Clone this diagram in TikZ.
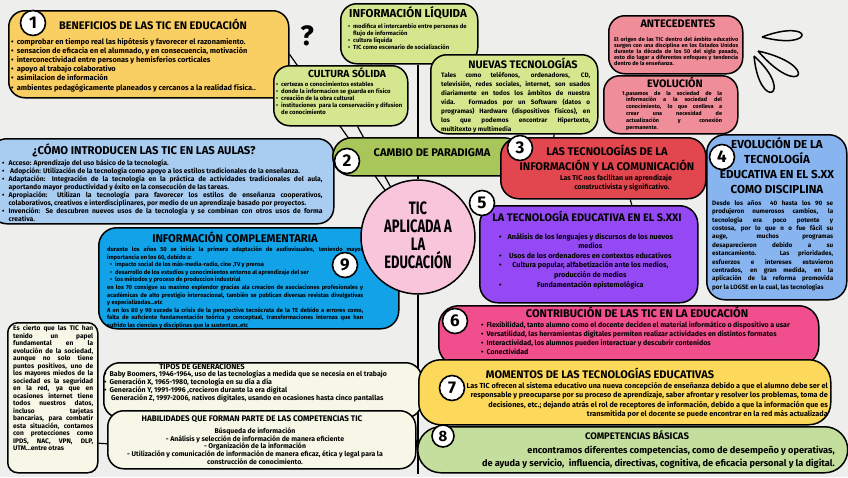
\documentclass[tikz,border=0pt]{standalone}
\usepackage{fontspec}
\setmainfont{Fira Sans}
\newfontfamily\narrowfont{Fira Sans}[FakeStretch=0.72]
\usetikzlibrary{positioning}

\definecolor{tpaper}{HTML}{EEEEEC}
\definecolor{tsun}{HTML}{F9CE63}
\definecolor{tsunB}{HTML}{FCD85B}
\definecolor{tlime}{HTML}{D4E78F}
\definecolor{trose}{HTML}{EF8E99}
\definecolor{tsky}{HTML}{A9CCF1}
\definecolor{tolive}{HTML}{A8C65A}
\definecolor{tred}{HTML}{E2464F}
\definecolor{tcorn}{HTML}{88B5EF}
\definecolor{tblush}{HTML}{F8C5DB}
\definecolor{tviolet}{HTML}{9549F4}
\definecolor{tazure}{HTML}{11A2E8}
\definecolor{tcream}{HTML}{F6F7E6}
\definecolor{tpink}{HTML}{F14E8E}
\definecolor{tsage}{HTML}{C4DE9D}

\pgfdeclarelayer{paperlayer}
\pgfdeclarelayer{links}
\pgfsetlayers{paperlayer,links,main}

\begin{document}
\begin{tikzpicture}[x=1pt, y=-1pt, font=\bfseries,
    box/.style={draw, line width=1.5pt, rounded corners=16pt, anchor=north west, inner sep=0pt},
    ttl/.style={inner sep=0pt, font=\bfseries\fontsize{11}{12}\selectfont},
    txt/.style={inner sep=0pt, anchor=north west},
    num/.style={circle, draw, line width=1.6pt, fill=white, minimum size=25pt, inner sep=0pt, font=\bfseries\fontsize{17}{17}\selectfont},
    link/.style={line width=1.2pt},
    loop/.style={line width=1.5pt}
  ]
  \useasboundingbox (0,0) rectangle (848,477);
  \begin{pgfonlayer}{paperlayer}
    \fill[tpaper] (0,0) rectangle (848,477);
  \end{pgfonlayer}

  % top row
  \node[box, fill=tsun, minimum width=280pt, minimum height=87pt] (benef) at (8,10) {};
  \node[ttl] (benefT) at (153,24) {BENEFICIOS DE LAS TIC EN EDUCACIÓN};
  \node[txt, align=left, font=\bfseries\fontsize{7.4}{9.2}\selectfont] (benefX) at (11,37.7)
    {\textbullet\hspace{3pt}comprobar en tiempo real las hipótesis y favorecer el razonamiento.\\
     \textbullet\hspace{3pt}sensacion de eficacia en el alumnado, y en consecuencia, motivación\\
     \textbullet\hspace{3pt}interconectividad entre personas y hemisferios corticales\\
     \textbullet\hspace{3pt}apoyo al trabajo colaborativo\\
     \textbullet\hspace{3pt}asimilacion de información\\
     \textbullet\hspace{3pt}ambientes pedagógicamente planeados y cercanos a la realidad física..};

  \node[font=\bfseries\fontsize{28}{28}\selectfont, inner sep=0pt] (quest) at (307,36) {?};

  \node[box, fill=tlime, minimum width=137pt, minimum height=60pt] (liquida) at (340,3) {};
  \node[ttl, font=\bfseries\fontsize{11.5}{12}\selectfont] (liquidaT) at (408,13) {INFORMACIÓN LÍQUIDA};
  \node[txt, font=\bfseries\fontsize{5.9}{7}\selectfont] (liquidaX) at (348,23.7)
    {\begin{tabular}{@{}l@{\hspace{3pt}}l@{}}
     \textbullet & modifica el intercambio entre personas de\\
                 & flujo de información\\
     \textbullet & cultura líquida\\
     \textbullet & TIC como escenario de socialización
     \end{tabular}};

  \node[box, fill=tlime, minimum width=167pt, minimum height=79pt] (nuevas) at (430,54) {};
  \node[ttl, font=\bfseries\fontsize{10.9}{12}\selectfont] (nuevasT) at (523,63) {NUEVAS TECNOLOGÍAS};
  \node[txt, text width=149pt, align=justify, font=\bfseries\fontsize{6.4}{8.9}\selectfont] (nuevasX) at (441,72.1)
    {Tales como teléfonos, ordenadores, CD,\linebreak televisión, redes sociales, internet, son usados\linebreak
     diariamente en todos los ámbitos de nuestra\linebreak vida. Formados por un Software (datos o\linebreak
     programas) Hardware (dispositivos físicos), en\linebreak los que podemos encontrar Hipertexto,\linebreak
     multitexto y multimedia};

  \node[box, fill=tlime, minimum width=134pt, minimum height=60pt] (cultura) at (273,65) {};
  \node[ttl, font=\bfseries\fontsize{10.3}{12}\selectfont] (culturaT) at (347,73) {CULTURA SÓLIDA};
  \node[txt, font=\bfseries\fontsize{5.9}{7}\selectfont] (culturaX) at (276,81.7)
    {\begin{tabular}{@{}l@{\hspace{3pt}}l@{}}
     \textbullet & certezas o conocimientos estables\\
     \textbullet & donde la informacion se guarda en físico\\
     \textbullet & creación de la obra cultural\\
     \textbullet & instituciones\ \ para la conservación y difusion\\
                 & de conocimiento
     \end{tabular}};

  \node[box, fill=trose, minimum width=134pt, minimum height=58pt] (antec) at (608,15) {};
  \node[ttl, font=\bfseries\fontsize{10.9}{12}\selectfont] (antecT) at (678,24) {ANTECEDENTES};
  \node[txt, text width=124pt, align=justify, font=\bfseries\fontsize{5.5}{6}\selectfont] (antecX) at (614,36.5)
    {El origen de las TIC dentro del ámbito educativo\linebreak surgen con una disciplina en los Estados Unidos\linebreak
     durante la década de los 50 del siglo pasado,\linebreak esto dio lugar a diferentes enfoques y tendencia\linebreak
     dentro de la enseñanza.};

  \node[box, fill=trose, minimum width=134pt, minimum height=58pt] (evol) at (603,75) {};
  \node[ttl, font=\bfseries\fontsize{10.8}{12}\selectfont] (evolT) at (675,82.3) {EVOLUCIÓN};
  \node[txt, font=\bfseries\fontsize{5.5}{6.9}\selectfont] (evolX) at (622,90)
    {\begin{tabular}{@{}l@{}p{96pt}@{}}
     1. & pasamos de la sociedad de la\linebreak información a la sociedad del\linebreak
          conocimiento, lo que conlleva a\linebreak crear una necesidad de\linebreak
          actualización y conexión\linebreak permanente.
     \end{tabular}};

  % sparkle loops
  \draw[loop] (762,37) .. controls (816.2,51.3) and (814.5,17.3) .. (762,37);
  \draw[loop] (758,51) .. controls (800.7,100.8) and (822.1,65.2) .. (758,51);
  \draw[loop] (754,56) .. controls (759.4,113.3) and (796.6,94.7) .. (754,56);

  % middle band
  \node[box, fill=tsky, minimum width=343pt, minimum height=85pt] (aulas) at (-10,138) {};
  \node[ttl, font=\bfseries\fontsize{11.3}{12}\selectfont] (aulasT) at (144,150) {¿CÓMO INTRODUCEN LAS TIC EN LAS AULAS?};
  \node[txt, font=\bfseries\fontsize{6.8}{7.9}\selectfont] (aulasX) at (2,159.3)
    {\begin{tabular}{@{}l@{\hspace{4pt}}p{314pt}@{}}
     \textbullet & Acceso: Aprendizaje del uso básico de la tecnología.\\
     \textbullet & \ Adopción: Utilización de la tecnología como apoyo a los estilos tradicionales de la enseñanza.\\
     \textbullet & Adaptación: Integración de la tecnología en la práctica de actividades tradicionales del aula,\linebreak
                   aportando mayor productividad y éxito en la consecución de las tareas.\\
     \textbullet & Apropiación: Utilizan la tecnología para favorecer los estilos de enseñanza cooperativos,\linebreak
                   colaborativos, creativos e interdisciplinares, por medio de un aprendizaje basado por proyectos.\\
     \textbullet & Invención: Se descubren nuevos usos de la tecnología y se combinan con otros usos de forma\linebreak
                   creativa.
     \end{tabular}};

  \node[box, fill=tolive, minimum width=190pt, minimum height=38pt, rounded corners=19pt] (cambio) at (332,137) {};
  \node[ttl, font=\bfseries\fontsize{11.1}{12}\selectfont] (cambioT) at (432,153) {CAMBIO DE PARADIGMA};

  \node[box, fill=tred, minimum width=205pt, minimum height=61pt, rounded corners=18pt] (tics) at (500,137) {};
  \node[ttl, align=center, font=\bfseries\fontsize{11.1}{15}\selectfont] (ticsT) at (607,157.5)
    {LAS TECNOLOGÍAS DE LA\\INFORMACIÓN Y LA COMUNICACIÓN};
  \node[inner sep=0pt, align=center, font=\bfseries\fontsize{7}{9}\selectfont] (ticsX) at (616,182.5)
    {Las TIC nos facilitan un aprendizaje\\\hspace*{12pt}constructivista y significativo.};

  \node[box, fill=tcorn, minimum width=140pt, minimum height=165pt, rounded corners=18pt] (evo20) at (706,134) {};
  \node[ttl, align=center, font=\bfseries\fontsize{11.6}{15}\selectfont] (evo20T) at (777,165.5)
    {EVOLUCIÓN DE LA\\TECNOLOGÍA\\EDUCATIVA EN EL S.XX\\COMO DISCIPLINA};
  \node[txt, text width=121pt, align=justify, font=\bfseries\fontsize{6.3}{8.4}\selectfont] (evo20X) at (712,200.1)
    {Desde los años\ \ 40 hasta los 90 se\linebreak produjeron numerosos cambios, la\linebreak
     tecnología era poco potente y\linebreak costosa, por lo que n o fue fácil su\linebreak
     auge, muchos programas\linebreak desaparecieron debido a su\linebreak
     estancamiento. Las prioridades,\linebreak esfuerzos e intereses estuvieron\linebreak
     centrados, en gran medida, en la\linebreak aplicación de la reforma promovida\linebreak
     por la LOGSE en la cual, las tecnologías};

  \node[box, fill=tazure, minimum width=300pt, minimum height=101pt, rounded corners=18pt] (complem) at (98,227) {};
  \node[ttl, font=\bfseries\fontsize{11.2}{12}\selectfont] (complemT) at (235,237) {INFORMACIÓN COMPLEMENTARIA};
  \node[txt, text width=256pt, align=justify, font=\bfseries\fontsize{5.8}{7.6}\selectfont] (complemX) at (107,246.4)
    {durante los años 50 se inicia la primera adaptación de audiovisuales, teniendo mayor\linebreak
     importancia en los 60, debido a:\\
     \hspace*{3pt}\textbullet\hspace{3pt}impacto social de los más-media-radio, cine ,TV y prensa\\
     \hspace*{3pt}\textbullet\hspace{3pt}desarrollo de los estudios y conocimientos entorno al aprendizaje del ser\\
     \hspace*{3pt}\textbullet\hspace{3pt}los métodos y proceso de produccion industrial\\
     en los 70 consigue su maximo esplendor gracias ala creacion de asociaciones profesionales y\linebreak
     académicas de alto prestigio internacional, también se publican diversas revistas divulgativas\linebreak
     y especializadas...etc\\
     A en los 80 y 90 sucede la crisis de la perspectiva tecnócrata de la TE debido a errores como,\linebreak
     falta de suficiente fundamentación teórica y conceptual, transformaciones internas que han\linebreak
     sufrido las ciencias y disciplinas que la sustentan..etc};

  \node[circle, draw, line width=1.5pt, fill=tblush, minimum size=114pt, inner sep=0pt] (centre) at (418,237) {};
  \node[inner sep=0pt, align=center, font=\narrowfont\bfseries\fontsize{18}{18}\selectfont] (centreT) at (418,235)
    {TIC\\APLICADA A\\LA\\EDUCACIÓN};

  \node[box, fill=tviolet, minimum width=218pt, minimum height=97pt, rounded corners=18pt] (sxxi) at (479,205) {};
  \node[ttl, font=\bfseries\fontsize{10.9}{12}\selectfont] (sxxiT) at (587,216) {LA TECNOLOGÍA EDUCATIVA EN EL S.XXI};
  \node[txt, font=\bfseries\fontsize{7.2}{9.6}\selectfont] (sxxiX) at (499,232.2)
    {\begin{tabular}{@{}l@{\hspace{6pt}}c@{}}
     \textbullet & Análisis de los lenguajes y discursos de los nuevos\\
                 & medios\\
     \textbullet & Usos de los ordenadores en contextos educativos\\
     \textbullet & Cultura popular, alfabetización ante los medios,\\
                 & producción de medios\\
     \textbullet & Fundamentación epistemológica
     \end{tabular}};

  % bottom band
  \node[box, fill=tcream, minimum width=90pt, minimum height=150pt, rounded corners=10pt] (nota) at (7,322) {};
  \node[txt, text width=80pt, align=justify, font=\bfseries\fontsize{6.6}{7.5}\selectfont] (notaX) at (13,325)
    {Es cierto que las TIC han\linebreak tenido un papel\linebreak fundamental en la\linebreak
     evolución de la sociedad,\linebreak aunque no solo tiene\linebreak puntos positivos, uno de\linebreak
     los mayores miedos de la\linebreak sociedad es la seguridad\linebreak en la red, ya que en\linebreak
     ocasiones internet tiene\linebreak todos nuestros datos,\linebreak incluso tarjetas\linebreak
     bancarias, para combatir\linebreak esta situación, contamos\linebreak con protecciones como\linebreak
     IPDS, NAC, VPN, DLP,\linebreak UTM...entre otras};

  \node[box, fill=tcream, minimum width=318pt, minimum height=55pt, rounded corners=16pt] (tipos) at (103,362) {};
  \node[ttl, font=\bfseries\fontsize{7.6}{9}\selectfont] (tiposT) at (202,367) {TIPOS DE GENERACIONES};
  \node[txt, align=left, font=\bfseries\fontsize{7}{8.1}\selectfont] (tiposX) at (104,370.2)
    {\textbullet\hspace{3pt}Baby Boomers, 1946-1964, uso de las tecnologías a medida que se necesia en el trabajo\\
     \textbullet\hspace{3pt}Generación X, 1965-1980, tecnología en su día a día\\
     \textbullet\hspace{3pt}Generación Y, 1991-1996 ,crecieron durante la era digital\\
     \hspace*{7pt}Generación Z, 1997-2006, nativos digitales, usando en ocasiones hasta cinco pantallas};

  \node[box, fill=tcream, minimum width=308pt, minimum height=58pt, rounded corners=16pt] (habil) at (107,410) {};
  \node[ttl, font=\bfseries\fontsize{8.1}{9}\selectfont] (habilT) at (252,419) {HABILIDADES QUE FORMAN PARTE DE LAS COMPETENCIAS TIC};
  \node[inner sep=0pt, align=center, font=\bfseries\fontsize{6.9}{7.7}\selectfont] (habilX) at (255,446)
    {Búsqueda de información\\- Análisis y selección de información de manera eficiente\\
     - Organización de la información\\
     - Utilización y comunicación de información de manera eficaz, ética y legal para la\\
     construcción de conocimiento.};

  \node[box, fill=tpink, minimum width=380pt, minimum height=60pt, rounded corners=20pt] (contrib) at (438,305) {};
  \node[ttl, font=\bfseries\fontsize{11.1}{12}\selectfont] (contribT) at (637,312) {CONTRIBUCIÓN DE LAS TIC EN LA EDUCACIÓN};
  \node[txt, align=left, font=\bfseries\fontsize{7}{9}\selectfont] (contribX) at (481,321.9)
    {\textbullet\hspace{3pt}Flexibilidad, tanto alumno como el docente deciden el material informático o dispositivo a usar\\
     \textbullet\hspace{3pt}Versatilidad, las herramientas digitales permiten realizar actividades en distintos formatos\\
     \textbullet\hspace{3pt}Interactividad, los alumnos pueden interactuar y descubrir contenidos\\
     \textbullet\hspace{3pt}Conectividad};

  \node[box, fill=tsunB, minimum width=412pt, minimum height=65pt, rounded corners=22pt] (momentos) at (418,359) {};
  \node[ttl] (momentosT) at (600,373) {MOMENTOS DE LAS TECNOLOGÍAS EDUCATIVAS};
  \node[inner sep=0pt, anchor=north east, align=right, font=\bfseries\fontsize{7.3}{9.6}\selectfont] (momentosX) at (828,381.7)
    {Las TIC ofrecen al sistema educativo una nueva concepción de enseñanza debido a que el alumno debe ser el\\
     responsable y preocuparse por su proceso de aprendizaje, saber afrontar y resolver los problemas, toma de\\
     decisiones, etc.; dejando atrás el rol de receptores de información, debido a que la información que es\\
     transmitida por el docente se puede encontrar en la red más actualizada};

  \node[box, fill=tsage, minimum width=430pt, minimum height=46pt, rounded corners=23pt] (compet) at (417,426) {};
  \node[ttl, font=\bfseries\fontsize{9.5}{12}\selectfont] (competT) at (637,435) {COMPETENCIAS BÁSICAS};
  \node[inner sep=0pt, anchor=north east, align=right, font=\bfseries\fontsize{9.2}{13}\selectfont] (competX) at (835,445.9)
    {encontramos diferentes competencias, como de desempeño y operativas,\\
     de ayuda y servicio,\ \ influencia, directivas, cognitiva, de eficacia personal y la digital.};

  % numbered badges
  \node[num] (n1) at (33,23) {1};
  \node[num] (n2) at (347,161) {2};
  \node[num] (n3) at (520,148) {3};
  \node[num] (n4) at (722,157) {4};
  \node[num] (n5) at (482,203) {5};
  \node[num] (n6) at (455,321) {6};
  \node[num] (n7) at (452,388) {7};
  \node[num, minimum size=22pt, font=\bfseries\fontsize{15}{15}\selectfont] (n8) at (443,436) {8};
  \node[num] (n9) at (345,265) {9};

  % connectors
  \begin{pgfonlayer}{links}
    \draw[link] (benef.east) -- (centre);
    \draw[link] (cultura) -- (centre);
    \draw[link] (liquida.south -| centre) -- (centre);
    \draw[link] ([xshift=40pt]nuevas.south) -- ([xshift=-49.5pt]tics.north);
    \draw[link] ([xshift=27pt]tics.south) -- ([xshift=43pt]sxxi.north);
    \draw[link] (centre) -- (centre |- compet.south);
    \draw[link] (habil.east) -- (compet.west);
    \draw[link] ([yshift=-45.5pt]nota.east) -- ([yshift=-4pt]habil.west);
  \end{pgfonlayer}
\end{tikzpicture}
\end{document}
